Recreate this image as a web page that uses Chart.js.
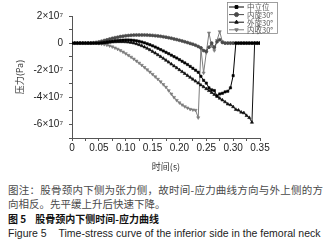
<!DOCTYPE html>
<html>
<head>
<meta charset="utf-8">
<script src="https://cdn.jsdelivr.net/npm/chart.js@4/dist/chart.umd.min.js"></script>
<style>
  body { margin: 0; background: #fff; width: 336px; height: 245px; overflow: hidden; position: relative; }
  .chart-box { position: absolute; left: 0; top: 0; width: 336px; height: 172px; }
  .cap { position: absolute; left: 8px; white-space: nowrap; font-family: "Noto Sans CJK SC", sans-serif; line-height: 14px; }
  .note { color: #4a4a4a; font-size: 10.5px; }
  .l1 { width: 315px; text-align: justify; text-align-last: justify; white-space: normal; }
  .fig { color: #111; font-size: 10px; font-weight: 600; }
  .en { color: #222; font-size: 10.5px; letter-spacing: 0.02px; font-family: "Liberation Sans", Arial, sans-serif; }
</style>
</head>
<body>
<div class="chart-box">
  <canvas id="stressChart" width="336" height="172"></canvas>
</div>
<div class="cap note l1" style="top:183px">图注：股骨颈内下侧为张力侧，故时间-应力曲线方向与外上侧的方</div>
<div class="cap note" style="top:197px">向相反。先平缓上升后快速下降。</div>
<div class="cap fig" style="top:212px">图 5&nbsp;&nbsp;&nbsp;&nbsp;股骨颈内下侧时间-应力曲线</div>
<div class="cap en" style="top:226px">Figure 5&nbsp;&nbsp;&nbsp;&nbsp;Time-stress curve of the inferior side in the femoral neck</div>
<script type="text/javascript">
// time (s)
const times = [0, 0.005, 0.01, 0.015, 0.02, 0.025, 0.03, 0.035, 0.04, 0.045,
  0.05, 0.055, 0.06, 0.065, 0.07, 0.075, 0.08, 0.085, 0.09, 0.095,
  0.1, 0.105, 0.11, 0.115, 0.12, 0.125, 0.13, 0.135, 0.14, 0.145,
  0.15, 0.155, 0.16, 0.165, 0.17, 0.175, 0.18, 0.185, 0.19, 0.195,
  0.2, 0.205, 0.21, 0.215, 0.22, 0.225, 0.23, 0.235, 0.24, 0.245,
  0.25, 0.255, 0.26, 0.265, 0.27, 0.275, 0.28, 0.285, 0.29, 0.295,
  0.3, 0.305, 0.31, 0.315, 0.32, 0.325, 0.33, 0.335, 0.34, 0.345, 0.35];

// stress, in units of 10^7 Pa
const neutral = [0, 0, 0, 0, 0, 0, 0, 0, 0, 0,
  0, 0.02, 0.05, 0.08, 0.11, 0.14, 0.17, 0.19, 0.21, 0.22,
  0.23, 0.23, 0.22, 0.2, 0.17, 0.13, 0.08, 0.02, -0.05, -0.12,
  -0.2, -0.29, -0.38, -0.48, -0.58, -0.68, -0.78, -0.89, -1.0, -1.1,
  -1.22, -1.34, -1.46, -1.58, -1.72, -1.86, -2.0, -2.15, -2.45, -2.75,
  -2.95, -3.3, -3.45, -3.5, -3.9, -3.75, -3.7, -3.6, -3.55, -3.3,
  -2.4, 0, 0, 0, 0, 0, 0, 0, 0, 0, 0];
const intRot = [0, 0, 0, 0, 0, 0, 0, 0, 0.02, 0.05,
  0.09, 0.14, 0.19, 0.24, 0.3, 0.35, 0.4, 0.44, 0.48, 0.51,
  0.54, 0.56, 0.58, 0.59, 0.6, 0.6, 0.6, 0.6, 0.59, 0.58,
  0.57, 0.55, 0.53, 0.5, 0.47, 0.44, 0.4, 0.36, 0.31, 0.26,
  0.21, 0.16, 0.1, 0.04, -0.02, -0.08, -0.15, -0.25, -0.35, -0.55,
  -0.6, -0.3, 0, -0.3, 0.1, 0.25, 0.05, 0, 0, 0,
  0, 0, 0, 0, 0, 0, 0, 0, 0, 0, 0];
const extRot = [0, 0, 0, 0, 0, 0, 0, 0, 0, 0,
  0, 0, 0.02, 0.04, 0.06, 0.08, 0.09, 0.1, 0.1, 0.1,
  0.09, 0.07, 0.04, 0, -0.05, -0.12, -0.2, -0.29, -0.39, -0.5,
  -0.62, -0.74, -0.87, -1.0, -1.13, -1.27, -1.41, -1.55, -1.69, -1.83,
  -1.97, -2.11, -2.25, -2.39, -2.53, -2.67, -2.81, -2.95, -3.09, -3.23,
  -3.37, -3.51, -3.65, -3.79, -3.93, -4.07, -4.2, -4.34, -4.5, -4.55,
  -4.7, -4.9, -4.95, -5.1, -5.15, -5.35, -5.5, -5.85, 0, 0, 0];
const adduct = [0, 0, 0, 0, 0, 0, 0, 0, 0, 0,
  -0.02, -0.05, -0.09, -0.14, -0.2, -0.27, -0.35, -0.44, -0.54, -0.65,
  -0.77, -0.9, -1.03, -1.17, -1.32, -1.47, -1.63, -1.79, -1.96, -2.13,
  -2.3, -2.48, -2.66, -2.85, -3.05, -3.25, -3.5, -3.75, -4.0, -4.22,
  -4.4, -4.55, -4.68, -4.78, -4.88, -4.92, -4.95, -5.5, -0.4, -2.2,
  -0.7, 0.75, -0.2, -0.55, 0.2, 0.85, 0.1, 0, 0, 0,
  0, 0, 0, 0, 0, 0, 0, 0, 0, 0, 0];

const yTicks = [2, 0, -2, -4, -6];
const xTickLabels = ['0', '0.05', '0.10', '0.15', '0.20', '0.25', '0.30', '0.35'];

function pts(arr) {
  return times.map(function (t, i) { return { x: t, y: arr[i] }; });
}

function series(label, arr, color, style, rot, r) {
  return {
    label: label,
    data: pts(arr),
    borderColor: color,
    backgroundColor: color,
    borderWidth: 1,
    pointStyle: style,
    pointRotation: rot,
    pointRadius: r,
    pointBorderWidth: 0.6,
    tension: 0
  };
}

const legendBox = {
  id: 'legendBox',
  afterDraw(chart) {
    const ctx = chart.ctx;
    ctx.save();
    // y axis title
    ctx.translate(20, (chart.chartArea.top + chart.chartArea.bottom) / 2);
    ctx.rotate(-Math.PI / 2);
    ctx.fillStyle = '#333';
    ctx.font = '9px "Noto Sans CJK SC"';
    ctx.textAlign = 'center';
    ctx.textBaseline = 'middle';
    ctx.fillText('压力(Pa)', 0, 0);
    ctx.restore();

    ctx.save();
    ctx.fillStyle = '#fff';
    ctx.fillRect(227.5, 2.5, 50, 31);
    ctx.strokeStyle = '#888';
    ctx.lineWidth = 0.8;
    ctx.strokeRect(227.5, 2.5, 50, 31);
    chart.data.datasets.forEach(function (ds, i) {
      const y = 7 + i * 7.6;
      ctx.strokeStyle = ds.borderColor;
      ctx.lineWidth = 1;
      ctx.beginPath();
      ctx.moveTo(229, y);
      ctx.lineTo(244, y);
      ctx.stroke();
      ctx.fillStyle = ds.backgroundColor;
      Chart.helpers.drawPoint(ctx, {
        pointStyle: ds.pointStyle, rotation: ds.pointRotation, radius: 2, borderWidth: 0.6
      }, 236.5, y);
      ctx.fillStyle = '#555';
      ctx.font = '7.5px "Noto Sans CJK SC"';
      ctx.textBaseline = 'middle';
      ctx.fillText(ds.label, 247, y + 0.5);
    });
    ctx.restore();
  }
};

new Chart('stressChart', {
  type: 'line',
  data: {
    datasets: [
      series('中立位', neutral, '#000000', 'rect', 0, 1.6),
      series('内旋30°', intRot, '#4a4a4a', 'circle', 0, 1.5),
      series('外旋30°', extRot, '#111111', 'triangle', 0, 1.8),
      series('内收30°', adduct, '#7c7c7c', 'triangle', 180, 1.8)
    ]
  },
  options: {
    responsive: false,
    animation: false,
    layout: { padding: { top: 16, right: 76, left: 0, bottom: 0 } },
    plugins: { legend: { display: false }, tooltip: { enabled: false } },
    scales: {
      x: {
        type: 'linear',
        min: 0,
        max: 0.35,
        border: { display: true, color: '#555', width: 1 },
        grid: { drawOnChartArea: false, drawTicks: true, tickLength: 3, color: '#555' },
        ticks: {
          stepSize: 0.025,
          autoSkip: false,
          maxRotation: 0,
          padding: 1,
          color: '#222',
          font: { family: 'Liberation Sans', size: 10 },
          callback: function (v) {
            const k = Math.round(v * 1000);
            return k % 50 === 0 ? xTickLabels[k / 50] : '';
          }
        },
        title: {
          display: true,
          text: '时间(s)',
          color: '#333',
          padding: { top: 2, bottom: 0 },
          font: { family: 'Noto Sans CJK SC', size: 9 }
        },
        afterFit: function (s) { s.height = 34; }
      },
      y: {
        min: -7,
        max: 2,
        border: { display: true, color: '#555', width: 1 },
        grid: { drawOnChartArea: false, drawTicks: true, tickLength: 3, color: '#555' },
        ticks: {
          stepSize: 1,
          autoSkip: false,
          padding: 6,
          color: '#222',
          font: { family: 'Liberation Sans', size: 10 },
          callback: function (v) {
            if (yTicks.indexOf(v) < 0) return '';
            return v === 0 ? '0' : v + '×10⁷';
          }
        },
        afterFit: function (s) { s.width = 72; }
      }
    }
  },
  plugins: [legendBox]
});
</script>
</body>
</html>
